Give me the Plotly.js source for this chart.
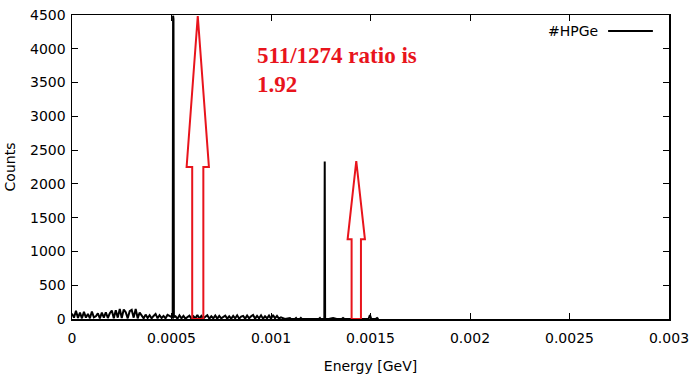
<!DOCTYPE html>
<html><head><meta charset="utf-8">
<script src="https://cdn.plot.ly/plotly-3.0.1.min.js"></script>
<style>html,body{margin:0;padding:0;background:#fff}#chart{width:690px;height:374px}</style>
</head><body><div id="chart"></div>
<script>
// --- data ---
// low-energy continuum, step 0.00001 GeV, from 0 to 0.00050
const lowCounts = [80,20,120,15,95,10,105,20,75,10,110,25,40,85,10,95,20,100,15,85,125,10,130,20,150,15,140,100,10,115,135,20,150,10,95,
                   45,10,65,15,55,10,45,75,10,55,15,45,10,60];
// 511 keV peak
const peak1Energy = [0.000506,0.000508,0.000510,0.000512];
const peak1Counts = [20,4490,4440,30];
// continuum after the 511 keV peak, step 0.00001 GeV, from 0.00052 to 0.00105
const midCounts = [40,5,55,10,45,5,35,50,5,40,10,60,5,45,10,35,55,5,40,10,50,5,45,10,35,50,5,40,5,45,10,55,5,35,45,5,
                   50,10,40,60,5,45,10,55,5,40,10,50,5,60,10,45,5,25];
// sparse region and the 1274 keV peak
const highEnergy = [0.00107,0.001095,0.0011,0.00112,0.001126,0.00113,0.001145,0.00115,0.001155,0.00124,0.001246,0.00125,
                    0.001268,0.00127,0.001272,0.00129,0.001312,0.00133,0.001355,0.001362,0.00137,0.00149,0.001497,0.001504,0.001525,0.001533,0.00154];
const highCounts = [0,15,0,0,15,0,0,15,0,0,15,0,
                    0,2330,0,0,15,0,0,15,0,0,60,0,0,15,0];

// arrows (data coordinates)
const arrowCenterX = [0.000632, 0.0014285];
const arrowTipY    = [4485, 2339];
const headBaseY    = [2250, 1180];
const headHalfW    = [0.000056, 0.0000435];
const shaftHalfW   = [0.000028, 0.0000235];

const xTickVals = [0,0.0005,0.001,0.0015,0.002,0.0025,0.003];
const xTickText = ['0','0.0005','0.001','0.0015','0.002','0.0025','0.003'];
const yTickVals = [0,500,1000,1500,2000,2500,3000,3500,4000,4500];

// --- build series ---
const energy = [], counts = [];
lowCounts.forEach((c,i)=>{energy.push(+(i*0.00001).toFixed(6)); counts.push(c);});
peak1Energy.forEach((e,i)=>{energy.push(e); counts.push(peak1Counts[i]);});
midCounts.forEach((c,i)=>{energy.push(+(0.00052+i*0.00001).toFixed(6)); counts.push(c);});
highEnergy.forEach((e,i)=>{energy.push(e); counts.push(highCounts[i]);});

const red = '#e8141c';
const shapes = arrowCenterX.map((cx,i)=>{
  const hw = headHalfW[i], sw = shaftHalfW[i];
  const p = `M ${cx-sw} 0 L ${cx-sw} ${headBaseY[i]} L ${cx-hw} ${headBaseY[i]} L ${cx} ${arrowTipY[i]} L ${cx+hw} ${headBaseY[i]} L ${cx+sw} ${headBaseY[i]} L ${cx+sw} 0 Z`;
  return {type:'path', xref:'x', yref:'y', path:p, line:{color:red, width:2}, fillcolor:'rgba(0,0,0,0)'};
});
// legend sample line
shapes.push({type:'line', xref:'paper', yref:'paper', x0:0.898, x1:0.973, y0:0.947, y1:0.947, line:{color:'black', width:2}});

const font = {family:'DejaVu Sans, sans-serif', size:14, color:'black'};
const axisCommon = {showline:true, mirror:'allticks', linecolor:'black', linewidth:1.5, ticks:'inside', ticklen:6,
  tickcolor:'black', tickwidth:1, showgrid:false, zeroline:false, tickfont:font};

const layout = {
  width:690, height:374, margin:{l:72, r:21, t:15, b:55},
  paper_bgcolor:'white', plot_bgcolor:'white', showlegend:false, font:font,
  xaxis: Object.assign({}, axisCommon, {range:[0,0.003], tickvals:xTickVals, ticktext:xTickText, ticklabelstandoff:6,
    title:{text:'Energy [GeV]', font:font, standoff:17}}),
  yaxis: Object.assign({}, axisCommon, {range:[0,4500], tickvals:yTickVals, ticklabelstandoff:2,
    title:{text:'Counts', font:font, standoff:11}}),
  shapes: shapes,
  annotations: [
    {xref:'paper', yref:'paper', x:0.307, y:0.866, xanchor:'left', yanchor:'middle', showarrow:false,
     text:'<b>511/1274 ratio is</b>', font:{family:'Liberation Serif, Times New Roman, serif', size:23, color:red}},
    {xref:'paper', yref:'paper', x:0.307, y:0.772, xanchor:'left', yanchor:'middle', showarrow:false,
     text:'<b>1.92</b>', font:{family:'Liberation Serif, Times New Roman, serif', size:23, color:red}},
    {xref:'paper', yref:'paper', x:0.885, y:0.947, xanchor:'right', yanchor:'middle', showarrow:false,
     text:'#HPGe', font:font}
  ]
};

Plotly.newPlot('chart', [{x:energy, y:counts, type:'scatter', mode:'lines', name:'#HPGe',
  line:{color:'black', width:2}}], layout, {staticPlot:true, displayModeBar:false});
</script></body></html>
